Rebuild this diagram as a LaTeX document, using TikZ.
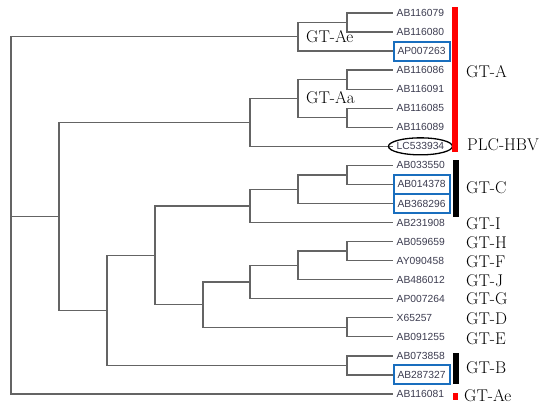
\documentclass[tikz,border=0pt]{standalone}
\usepackage{fontspec}
\newfontfamily\leaffont{Liberation Sans}
\definecolor{branch}{RGB}{100,100,100}
\definecolor{leaftext}{RGB}{60,60,80}
\definecolor{boxblue}{RGB}{25,110,190}
\definecolor{barred}{RGB}{255,0,0}
\begin{document}
\begin{tikzpicture}[x=1pt,y=-1pt,
  leaf/.style={anchor=west, font=\leaffont\fontsize{10.3}{12}\selectfont, text=leaftext, inner xsep=4pt, inner ysep=0pt, minimum height=19pt},
  boxed/.style={draw=boxblue, line width=2pt},
  branchline/.style={draw=branch, line width=1.3pt},
  clade/.style={anchor=west, inner sep=0pt, font=\fontsize{17}{20}\selectfont},
  ringline/.style={draw=black, line width=1.3pt}]
\fill[white] (0,0) rectangle (550,406);
\useasboundingbox (0,0) rectangle (550,406);
% leaves
\node[leaf] (l0) at (392.5,13) {AB116079};
\node[leaf] (l1) at (392.5,32.05) {AB116080};
\node[leaf,boxed] (l2) at (392.5,51.1) {AP007263};
\node[leaf] (l3) at (392.5,70.15) {AB116086};
\node[leaf] (l4) at (392.5,89.2) {AB116091};
\node[leaf] (l5) at (392.5,108.25) {AB116085};
\node[leaf] (l6) at (392.5,127.3) {AB116089};
\node[leaf] (l7) at (392.5,146.35) {LC533934};
\node[leaf] (l8) at (392.5,165.4) {AB033550};
\node[leaf,boxed] (l9) at (392.5,184.45) {AB014378};
\node[leaf,boxed] (l10) at (392.5,203.5) {AB368296};
\node[leaf] (l11) at (392.5,222.55) {AB231908};
\node[leaf] (l12) at (392.5,241.6) {AB059659};
\node[leaf] (l13) at (392.5,260.65) {AY090458};
\node[leaf] (l14) at (392.5,279.7) {AB486012};
\node[leaf] (l15) at (392.5,298.75) {AP007264};
\node[leaf] (l16) at (392.5,317.8) {X65257};
\node[leaf] (l17) at (392.5,336.85) {AB091255};
\node[leaf] (l18) at (392.5,355.9) {AB073858};
\node[leaf,boxed] (l19) at (392.5,374.95) {AB287327};
\node[leaf] (l20) at (392.5,394) {AB116081};
% internal nodes
\coordinate (e1) at (347,22.5);
\coordinate (ae) at (298,36.8);
\coordinate (a1) at (347,79.7);
\coordinate (a2) at (347,117.8);
\coordinate (aa) at (298,98.7);
\coordinate (ap) at (250,122.5);
\coordinate (c1) at (347,174.9);
\coordinate (cc) at (298,189.2);
\coordinate (ci) at (250,205.9);
\coordinate (hf) at (347,251.1);
\coordinate (hfj) at (298,265.4);
\coordinate (hfjg) at (250,282.1);
\coordinate (de) at (347,327.3);
\coordinate (g2) at (203,304.7);
\coordinate (n155) at (155,255.3);
\coordinate (bb) at (347,365.4);
\coordinate (n107) at (107,310.4);
\coordinate (n59) at (59,216.4);
\coordinate (root) at (11,216.4);
% branches
\draw[branchline] (e1) |- (l0.west) (e1) |- (l1.west);
\draw[branchline] (ae) |- (e1) (ae) |- (l2.west);
\draw[branchline] (a1) |- (l3.west) (a1) |- (l4.west);
\draw[branchline] (a2) |- (l5.west) (a2) |- (l6.west);
\draw[branchline] (aa) |- (a1) (aa) |- (a2);
\draw[branchline] (ap) |- (aa) (ap) |- (l7.west);
\draw[branchline] (c1) |- (l8.west) (c1) |- (l9.west);
\draw[branchline] (cc) |- (c1) (cc) |- (l10.west);
\draw[branchline] (ci) |- (cc) (ci) |- (l11.west);
\draw[branchline] (hf) |- (l12.west) (hf) |- (l13.west);
\draw[branchline] (hfj) |- (hf) (hfj) |- (l14.west);
\draw[branchline] (hfjg) |- (hfj) (hfjg) |- (l15.west);
\draw[branchline] (de) |- (l16.west) (de) |- (l17.west);
\draw[branchline] (g2) |- (hfjg) (g2) |- (de);
\draw[branchline] (n155) |- (ci) (n155) |- (g2);
\draw[branchline] (bb) |- (l18.west) (bb) |- (l19.west);
\draw[branchline] (n107) |- (n155) (n107) |- (bb);
\draw[branchline] (n59) |- (ap) (n59) |- (n107);
\draw[branchline] (root) |- (ae) (root) |- (n59) (root) |- (l20.west);
% ring round the PLC-HBV leaf
\draw[ringline] (l7.center) ellipse [x radius=32, y radius=8.5];
% bars
\fill[barred] (452,7) rectangle (457.5,152);
\fill[black] (453,160) rectangle (459,217);
\fill[black] (453,353) rectangle (459,384);
\fill[barred] (453,393) rectangle (458,400);
% clade labels
\node[clade] (lAe) at (306,37) {GT-Ae};
\node[clade] (lAa) at (306,98) {GT-Aa};
\node[clade] (gA) at (466,72) {GT-A};
\node[clade] (gP) at (467,144.5) {PLC-HBV};
\node[clade] (gC) at (466,187.5) {GT-C};
\node[clade] (gI) at (466,224) {GT-I};
\node[clade] (gH) at (466,242.5) {GT-H};
\node[clade] (gF) at (466,261.5) {GT-F};
\node[clade] (gJ) at (466,281) {GT-J};
\node[clade] (gG) at (466,299) {GT-G};
\node[clade] (gD) at (466,319) {GT-D};
\node[clade] (gE) at (466,339) {GT-E};
\node[clade] (gB) at (466,367.5) {GT-B};
\node[clade] (gAe) at (464,395.5) {GT-Ae};
\end{tikzpicture}
\end{document}
